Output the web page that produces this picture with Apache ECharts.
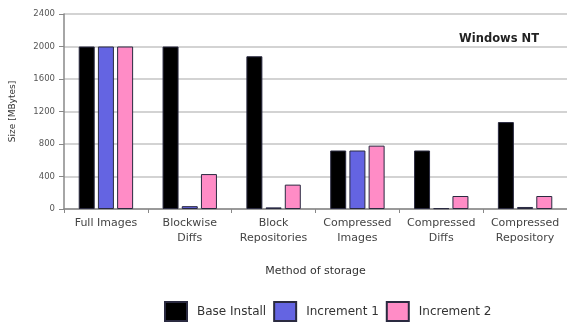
<!DOCTYPE html>
<html>
<head>
<meta charset="utf-8">
<script src="https://cdn.jsdelivr.net/npm/echarts@6/dist/echarts.min.js"></script>
<style>
  html, body { margin: 0; padding: 0; background: #fff; }
  #chart { width: 567px; height: 323px; }
</style>
</head>
<body>
<div id="chart"></div>
<script>
// Storage needed per method, Windows NT installation (MBytes)
const categories = [
  'Full Images',
  'Blockwise\nDiffs',
  'Block\nRepositories',
  'Compressed\nImages',
  'Compressed\nDiffs',
  'Compressed\nRepository'
];
const baseInstall = [2000, 2000, 1880, 720, 720, 1070];
const increment1  = [2000, 35, 20, 720, 10, 25];
const increment2  = [2000, 430, 300, 780, 160, 160];
const yTicks = [0, 400, 800, 1200, 1600, 2000, 2400];

const FONT = '"DejaVu Sans", Verdana, sans-serif';
const chart = echarts.init(document.getElementById('chart'), null, { renderer: 'canvas' });

function barSeries(name, data, color) {
  return {
    name: name,
    type: 'bar',
    data: data,
    barWidth: 16,
    barGap: '20%',
    itemStyle: { color: color, borderColor: '#2a2a40', borderWidth: 1 }
  };
}

chart.setOption({
  animation: false,
  backgroundColor: '#ffffff',
  textStyle: { fontFamily: FONT },
  title: {
    text: 'Windows NT',
    right: 23,
    top: 28,
    textStyle: { fontFamily: FONT, fontSize: 11.5, fontWeight: 'bold', color: '#222' }
  },
  grid: { left: 59.5, top: 14, width: 510, bottom: 114, containLabel: false },
  legend: {
    bottom: 1,
    left: 164,
    padding: 0,
    itemWidth: 22,
    itemHeight: 19,
    itemGap: 7,
    icon: 'rect',
    textStyle: { fontFamily: FONT, fontSize: 12, color: '#333', padding: [0, 0, 0, 5] },
    data: ['Base Install', 'Increment 1', 'Increment 2']
  },
  xAxis: {
    type: 'category',
    data: categories,
    name: 'Method of storage',
    nameLocation: 'middle',
    nameGap: 57,
    nameTextStyle: { fontFamily: FONT, fontSize: 11, color: '#333' },
    axisLine: { lineStyle: { color: '#888', width: 1.5 } },
    axisTick: { show: true, length: 4, lineStyle: { color: '#888' } },
    axisLabel: {
      fontFamily: FONT, fontSize: 11, color: '#444',
      lineHeight: 15, margin: 7, interval: 0
    }
  },
  yAxis: {
    type: 'value',
    min: yTicks[0],
    max: yTicks[yTicks.length - 1],
    interval: 400,
    name: 'Size [MBytes]',
    nameLocation: 'middle',
    nameRotate: 90,
    nameGap: 47,
    nameTextStyle: { fontFamily: FONT, fontSize: 9, color: '#333' },
    axisLine: { show: true, lineStyle: { color: '#888', width: 1.5 } },
    axisTick: { show: true, length: 5, lineStyle: { color: '#888' } },
    axisLabel: {
      fontFamily: FONT, fontSize: 8.5, color: '#555', margin: 9,
      formatter: function (v) { return String(v); }
    },
    splitLine: { show: true, lineStyle: { color: '#c4c4c4', width: 1.5 } }
  },
  series: [
    barSeries('Base Install', baseInstall, '#000000'),
    barSeries('Increment 1', increment1, '#6464e2'),
    barSeries('Increment 2', increment2, '#ff8cc6')
  ]
});
</script>
</body>
</html>
